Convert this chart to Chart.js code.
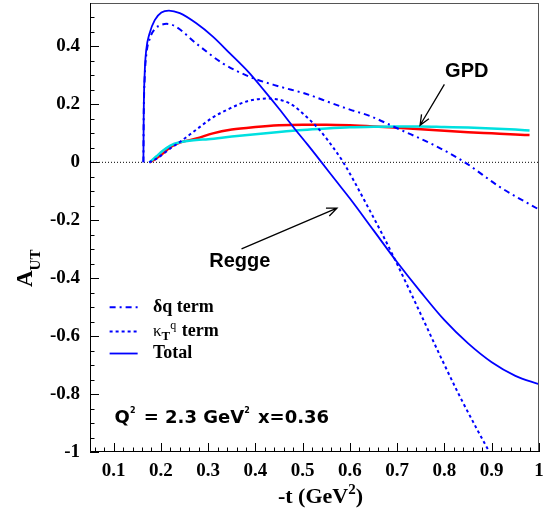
<!DOCTYPE html>
<html lang="en">
<head>
<meta charset="UTF-8">
<title>A_UT vs -t</title>
<script src="https://cdn.jsdelivr.net/npm/chart.js"></script>
<style>
  body { margin: 0; background: #fff; }
  #wrap { width: 549px; height: 510px; }
</style>
</head>
<body>
<div id="wrap"><canvas id="autChart" width="549" height="510"></canvas></div>
<script>
  // curves: -t (GeV^2) and A_UT
  const totalT = [0.163, 0.1636, 0.1657, 0.169, 0.176, 0.187, 0.201, 0.217, 0.24, 0.275, 0.31, 0.346, 0.385, 0.42, 0.45, 0.483, 0.51, 0.54, 0.57, 0.60, 0.65, 0.70, 0.75, 0.80, 0.85, 0.90, 0.95, 1.0];
  const totalA = [0, 0.157, 0.307, 0.388, 0.445, 0.491, 0.517, 0.524, 0.515, 0.48, 0.434, 0.376, 0.312, 0.245, 0.185, 0.116, 0.062, 0, -0.063, -0.125, -0.235, -0.345, -0.448, -0.545, -0.625, -0.69, -0.737, -0.766];

  const deltaT = [0.163, 0.1636, 0.1657, 0.169, 0.176, 0.187, 0.2, 0.212, 0.23, 0.275, 0.3315, 0.393, 0.45, 0.508, 0.565, 0.6, 0.642, 0.706, 0.776, 0.843, 0.917, 1.0];
  const deltaA = [0, 0.15, 0.29, 0.37, 0.425, 0.46, 0.474, 0.478, 0.47, 0.41, 0.341, 0.292, 0.262, 0.236, 0.202, 0.182, 0.16, 0.113, 0.061, 0, -0.085, -0.163];

  const kappaT = [0.175, 0.19, 0.204, 0.22, 0.24, 0.275, 0.31, 0.346, 0.385, 0.427, 0.473, 0.508, 0.536, 0.565, 0.586, 0.607, 0.635, 0.669, 0.695, 0.73, 0.76, 0.79, 0.83, 0.87, 0.895];
  const kappaA = [0, 0.012, 0.028, 0.048, 0.07, 0.113, 0.155, 0.186, 0.212, 0.22, 0.203, 0.157, 0.111, 0.05, 0, -0.06, -0.145, -0.25, -0.335, -0.455, -0.56, -0.665, -0.8, -0.925, -1.0];

  // GPD curves
  const redT = [0.176, 0.19, 0.204, 0.22, 0.24, 0.275, 0.31, 0.35, 0.4, 0.45, 0.5, 0.55, 0.6, 0.65, 0.7, 0.75, 0.8, 0.85, 0.9, 0.95, 0.98];
  const redA = [0, 0.013, 0.03, 0.052, 0.068, 0.082, 0.1, 0.113, 0.122, 0.128, 0.13, 0.13, 0.128, 0.124, 0.119, 0.114, 0.109, 0.104, 0.1, 0.096, 0.094];
  const cyanT = [0.176, 0.19, 0.204, 0.22, 0.24, 0.275, 0.3, 0.35, 0.4, 0.45, 0.5, 0.55, 0.6, 0.65, 0.7, 0.75, 0.8, 0.85, 0.9, 0.95, 0.98];
  const cyanA = [0, 0.02, 0.04, 0.058, 0.069, 0.077, 0.08, 0.089, 0.097, 0.105, 0.112, 0.117, 0.121, 0.123, 0.124, 0.124, 0.122, 0.12, 0.117, 0.113, 0.11];

  const xTicks = [0.1, 0.2, 0.3, 0.4, 0.5, 0.6, 0.7, 0.8, 0.9, 1];
  const xTickLabels = ['0.1', '0.2', '0.3', '0.4', '0.5', '0.6', '0.7', '0.8', '0.9', '1'];
  const yTicks = [0.4, 0.2, 0, -0.2, -0.4, -0.6, -0.8, -1];
  const yTickLabels = ['0.4', '0.2', '0', '-0.2', '-0.4', '-0.6', '-0.8', '-1'];

  const pts = (xs, ys) => xs.map((v, i) => ({ x: v, y: ys[i] }));

  const BLUE = '#0000ff';
  const SERIF = '"Liberation Serif", "Times New Roman", serif';
  const SANS = '"Liberation Sans", Arial, sans-serif';

  // draw a run of text pieces with their own font / vertical offset
  function rich(ctx, parts, x, y) {
    parts.forEach(p => {
      ctx.font = p.font;
      ctx.fillText(p.t, x, y + (p.dy || 0));
      x += ctx.measureText(p.t).width + (p.gap || 0);
    });
  }

  function arrow(ctx, x0, y0, x1, y1) {
    const ang = Math.atan2(y1 - y0, x1 - x0);
    ctx.beginPath();
    ctx.moveTo(x0, y0);
    ctx.lineTo(x1, y1);
    ctx.moveTo(x1 - 11 * Math.cos(ang - 0.4), y1 - 11 * Math.sin(ang - 0.4));
    ctx.lineTo(x1, y1);
    ctx.lineTo(x1 - 11 * Math.cos(ang + 0.4), y1 - 11 * Math.sin(ang + 0.4));
    ctx.stroke();
  }

  const decor = {
    id: 'decor',
    afterDatasetsDraw(chart) {
      const { ctx, chartArea: a, scales: { x, y } } = chart;
      ctx.save();

      // frame
      ctx.lineWidth = 1;
      ctx.strokeStyle = '#555';
      ctx.strokeRect(a.left + 0.5, a.top + 0.5, a.right - a.left - 1, a.bottom - a.top - 1);
      ctx.strokeStyle = '#000';
      ctx.beginPath();
      ctx.moveTo(a.left + 0.5, a.top);
      ctx.lineTo(a.left + 0.5, a.bottom - 0.5);
      ctx.lineTo(a.right, a.bottom - 0.5);
      ctx.stroke();

      // inward ticks, ROOT style
      ctx.beginPath();
      for (let i = 3; i <= 50; i++) {
        const px = Math.round(x.getPixelForValue(i * 0.02)) + 0.5;
        ctx.moveTo(px, a.bottom);
        ctx.lineTo(px, a.bottom - (i % 5 === 0 ? 9 : 4.5));
      }
      for (let i = -20; i <= 10; i++) {
        const py = Math.round(y.getPixelForValue(i * 0.05)) + 0.5;
        ctx.moveTo(a.left, py);
        ctx.lineTo(a.left + (i % 4 === 0 ? 9 : 4.5), py);
      }
      ctx.stroke();

      // legend
      const ds = chart.data.datasets;
      const legendRows = [
        { d: ds[1], y: -0.5007, parts: [{ t: 'δq term', font: 'bold 18px ' + SERIF }] },
        { d: ds[2], y: -0.5837, parts: [
          { t: 'κ', font: '17px ' + SERIF },
          { t: 'T', font: 'bold 13px ' + SERIF, dy: 5 },
          { t: 'q', font: '12px ' + SERIF, dy: -6, gap: 1 },
          { t: ' term', font: 'bold 18px ' + SERIF }] },
        { d: ds[0], y: -0.66, parts: [{ t: 'Total', font: 'bold 18px ' + SERIF }] }
      ];
      const lx0 = x.getPixelForValue(0.0915), lx1 = x.getPixelForValue(0.1508);
      const tx = x.getPixelForValue(0.1833);
      ctx.fillStyle = '#000';
      ctx.textBaseline = 'middle';
      legendRows.forEach(r => {
        const py = y.getPixelForValue(r.y);
        ctx.save();
        ctx.strokeStyle = r.d.borderColor;
        ctx.lineWidth = r.d.borderWidth;
        ctx.setLineDash(r.d.borderDash || []);
        ctx.beginPath();
        ctx.moveTo(lx0, py);
        ctx.lineTo(lx1, py);
        ctx.stroke();
        ctx.restore();
        rich(ctx, r.parts, tx, py);
      });

      // kinematics label
      ctx.textBaseline = 'alphabetic';
      const SB = '"DejaVu Sans", sans-serif';
      rich(ctx, [
        { t: 'Q', font: 'bold 18px ' + SB },
        { t: '2', font: 'bold 8px ' + SB, dy: -10, gap: 2 },
        { t: ' = 2.3 GeV', font: 'bold 18px ' + SB },
        { t: '2', font: 'bold 8px ' + SB, dy: -10, gap: 2 },
        { t: ' x=0.36', font: 'bold 18px ' + SB }
      ], x.getPixelForValue(0.102), y.getPixelForValue(-0.899));

      // model labels and arrows
      ctx.font = 'bold 20px ' + SANS;
      ctx.fillText('GPD', x.getPixelForValue(0.8013), y.getPixelForValue(0.295));
      ctx.fillText('Regge', x.getPixelForValue(0.3022), y.getPixelForValue(-0.362));
      ctx.strokeStyle = '#000';
      ctx.lineWidth = 1.3;
      arrow(ctx, x.getPixelForValue(0.7998), y.getPixelForValue(0.269), x.getPixelForValue(0.7483), y.getPixelForValue(0.128));
      arrow(ctx, x.getPixelForValue(0.3706), y.getPixelForValue(-0.2986), x.getPixelForValue(0.5725), y.getPixelForValue(-0.158));

      ctx.restore();
    },
    afterDraw(chart) {
      const { ctx, chartArea: a } = chart;
      ctx.save();
      ctx.fillStyle = '#000';
      ctx.textBaseline = 'alphabetic';
      // x title
      const cx = (a.left + a.right) / 2 + 6;
      ctx.font = 'bold 22px ' + SERIF;
      const w1 = ctx.measureText('-t (GeV').width;
      ctx.font = 'bold 15px ' + SERIF;
      const w2 = ctx.measureText('2').width;
      ctx.font = 'bold 22px ' + SERIF;
      const w3 = ctx.measureText(')').width;
      rich(ctx, [
        { t: '-t (GeV', font: 'bold 22px ' + SERIF },
        { t: '2', font: 'bold 15px ' + SERIF, dy: -9 },
        { t: ')', font: 'bold 22px ' + SERIF }
      ], cx - (w1 + w2 + w3) / 2, 503);
      // y title
      ctx.translate(32, 287);
      ctx.rotate(-Math.PI / 2);
      rich(ctx, [
        { t: 'A', font: 'bold 23px ' + SERIF },
        { t: 'UT', font: 'bold 15px ' + SERIF, dy: 8 }
      ], 0, 0);
      ctx.restore();
    }
  };

  const tickFont = { family: SERIF, size: 19, weight: 'bold' };

  new Chart(document.getElementById('autChart'), {
    type: 'line',
    data: {
      datasets: [
        { label: 'Total', data: pts(totalT, totalA), borderColor: BLUE, borderWidth: 1.8 },
        { label: 'δq term', data: pts(deltaT, deltaA), borderColor: BLUE, borderWidth: 2, borderDash: [6, 4, 2, 4] },
        { label: 'κTq term', data: pts(kappaT, kappaA), borderColor: BLUE, borderWidth: 2, borderDash: [3, 3] },
        { label: 'GPD cyan', data: pts(cyanT, cyanA), borderColor: '#00e0e0', borderWidth: 2.5 },
        { label: 'GPD red', data: pts(redT, redA), borderColor: '#ff0000', borderWidth: 2.5 },
        { label: 'zero', data: [{ x: 0.05, y: 0 }, { x: 1, y: 0 }], borderColor: '#000', borderWidth: 1, borderDash: [1, 2] }
      ]
    },
    options: {
      responsive: false,
      animation: false,
      parsing: false,
      layout: { padding: { top: 3, right: 10, left: 0, bottom: 0 } },
      elements: {
        point: { radius: 0 },
        line: { cubicInterpolationMode: 'monotone', fill: false }
      },
      plugins: { legend: { display: false }, tooltip: { enabled: false } },
      scales: {
        x: {
          type: 'linear', min: 0.05, max: 1,
          afterBuildTicks: s => { s.ticks = xTicks.map(v => ({ value: v })); },
          afterFit: s => { s.height = 58; s.paddingLeft = 0; s.paddingRight = 0; },
          grid: { display: false, drawTicks: false },
          border: { display: false },
          ticks: { autoSkip: false, maxRotation: 0, padding: 8, color: '#000', font: tickFont,
            callback: (v, i) => xTickLabels[i] }
        },
        y: {
          type: 'linear', min: -1, max: 0.55,
          afterBuildTicks: s => { s.ticks = yTicks.map(v => ({ value: v })); },
          afterFit: s => { s.width = 90; s.paddingTop = 0; s.paddingBottom = 0; },
          grid: { display: false, drawTicks: false },
          border: { display: false },
          ticks: { autoSkip: false, padding: 10, color: '#000', font: tickFont,
            callback: (v, i) => yTickLabels[i] }
        }
      }
    },
    plugins: [decor]
  });
</script>
</body>
</html>
